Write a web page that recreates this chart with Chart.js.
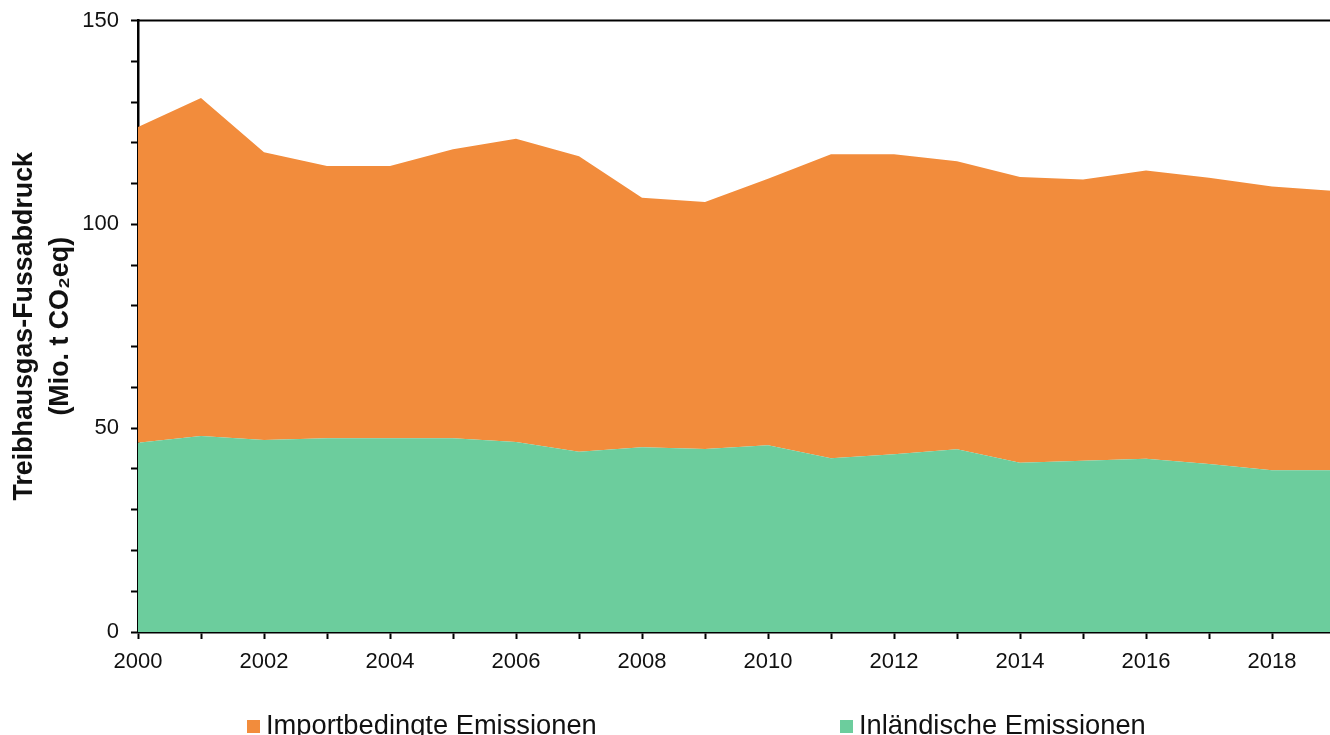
<!DOCTYPE html>
<html>
<head>
<meta charset="utf-8">
<script src="https://cdn.jsdelivr.net/npm/chart.js@4.4.1/dist/chart.umd.min.js"></script>
<style>
  html, body { margin: 0; padding: 0; overflow: hidden; background: #fff; }
  #wrap { position: relative; width: 1345px; height: 735px; }
  #legend { position: absolute; left: 0; top: 0; width: 100%; height: 100%; pointer-events: none;
            font-family: "Liberation Sans", Arial, sans-serif; font-size: 27.3px; color: #111; }
  .item { position: absolute; top: 709px; white-space: nowrap; line-height: 32px; }
  .box { display: inline-block; width: 13px; height: 13px; margin-right: 6px; vertical-align: 1px; }
</style>
</head>
<body>
<div id="wrap">
  <canvas id="chart" width="1345" height="735"></canvas>
  <div id="legend"></div>
</div>
<script>
const years = ['2000', '2001', '2002', '2003', '2004', '2005', '2006', '2007', '2008', '2009',
               '2010', '2011', '2012', '2013', '2014', '2015', '2016', '2017', '2018', '2019'];
// Mio. t CO2eq
const inland = [46.4, 48.1, 47.1, 47.5, 47.5, 47.5, 46.6, 44.2, 45.3, 44.9,
                45.8, 42.6, 43.6, 44.8, 41.5, 42.0, 42.5, 41.2, 39.7, 39.7];
const importe = [77.5, 82.9, 70.6, 66.8, 66.8, 70.9, 74.4, 72.5, 61.2, 60.6,
                 65.4, 74.6, 73.6, 70.7, 70.1, 69.0, 70.7, 70.2, 69.6, 68.5];
const yLabels = [0, 50, 100, 150];

const orange = 'rgb(242,140,60)';
const green = 'rgb(108,205,157)';
const font = '"Liberation Sans", Arial, sans-serif';

// obere Rahmenlinie
const topLine = {
    id: 'topLine',
    afterDraw(chart) {
        const { ctx, chartArea } = chart;
        ctx.save();
        ctx.strokeStyle = '#000';
        ctx.lineWidth = 2;
        ctx.beginPath();
        ctx.moveTo(chartArea.left, chartArea.top);
        ctx.lineTo(chartArea.right, chartArea.top);
        ctx.stroke();
        ctx.restore();
    }
};

const chart = new Chart(document.getElementById('chart'), {
    type: 'line',
    data: {
        labels: years,
        datasets: [
            {
                label: 'Inländische Emissionen',
                data: inland,
                backgroundColor: green,
                borderWidth: 0,
                pointRadius: 0,
                fill: 'origin'
            },
            {
                label: 'Importbedingte Emissionen',
                data: importe,
                backgroundColor: orange,
                borderWidth: 0,
                pointRadius: 0,
                fill: '-1'
            }
        ]
    },
    options: {
        responsive: false,
        animation: false,
        layout: { padding: { top: 20.5, right: 10, bottom: 50, left: 0 } },
        plugins: {
            legend: { display: false },
            tooltip: { enabled: false }
        },
        scales: {
            x: {
                offset: false,
                afterFit: s => { s.height = 53; },
                border: { color: '#000', width: 2.5 },
                grid: { drawOnChartArea: false, tickLength: 7, tickColor: '#000', tickWidth: 2 },
                ticks: {
                    autoSkip: false,
                    maxRotation: 0,
                    padding: 10,
                    color: '#111',
                    font: { family: font, size: 22 },
                    callback: function (v, i) { return i % 2 === 0 ? years[i] : ''; }
                }
            },
            y: {
                stacked: true,
                min: 0,
                max: 150,
                afterFit: s => { s.width = 138; s.paddingTop = 0; s.paddingBottom = 0; },
                border: { color: '#000', width: 2.5 },
                grid: { drawOnChartArea: false, tickLength: 7, tickColor: '#000', tickWidth: 2 },
                ticks: {
                    stepSize: 10,
                    autoSkip: false,
                    padding: 12,
                    color: '#111',
                    font: { family: font, size: 22 },
                    callback: v => yLabels.includes(v) ? v : ''
                },
                title: {
                    display: true,
                    text: ['Treibhausgas-Fussabdruck', '(Mio. t CO₂eq)'],
                    color: '#111',
                    font: { family: font, size: 26.8, weight: 'bold', lineHeight: 1.33 },
                    padding: { top: 7, bottom: 0 }
                }
            }
        }
    },
    plugins: [topLine]
});

// Legende als HTML, Reihenfolge wie im Original
const legendPos = [247, 840];
const legendEl = document.getElementById('legend');
[1, 0].forEach((di, k) => {
    const ds = chart.data.datasets[di];
    const item = document.createElement('div');
    item.className = 'item';
    item.style.left = legendPos[k] + 'px';
    item.innerHTML = '<span class="box" style="background:' + ds.backgroundColor + '"></span>' + ds.label;
    legendEl.appendChild(item);
});
</script>
</body>
</html>
